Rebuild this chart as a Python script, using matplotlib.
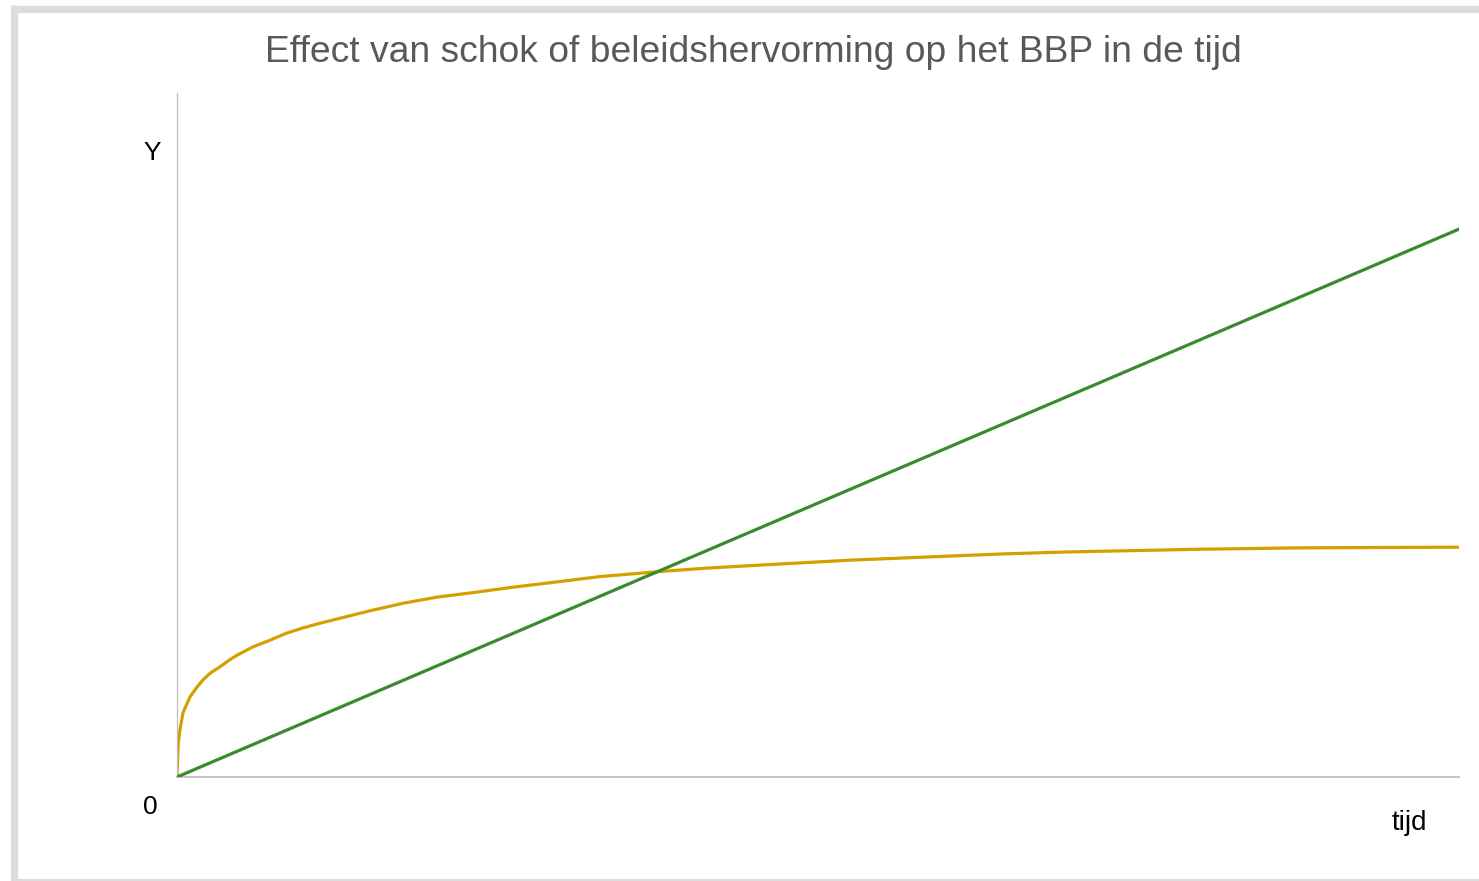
import matplotlib.pyplot as plt
from matplotlib.lines import Line2D

plt.rcParams['font.family'] = ['Liberation Sans', 'DejaVu Sans']

# time axis runs 0..100, output (Y) axis 0..100
tijd_trend = [0, 100]
y_trend = [0, 80.1]

tijd_schok = [0, 0.1, 0.23, 0.47, 1.01, 1.5, 2.03, 2.6, 3.35, 4.0, 4.68, 5.9, 7.25,
              8.5, 9.83, 11.2, 12.48, 15.05, 17.63, 20.28, 22.85, 26.0, 29.1, 33.0,
              37.4, 41.0, 44.7, 48.6, 52.5, 56.4, 60.3, 64.2, 69.4, 74.6, 79.8, 87.6, 100]
y_schok = [0, 5.0, 6.9, 9.4, 11.7, 13.0, 14.2, 15.2, 16.1, 17.0, 17.8, 19.0, 20.0,
           21.0, 21.8, 22.5, 23.1, 24.3, 25.4, 26.3, 26.9, 27.7, 28.4, 29.3,
           30.0, 30.5, 30.9, 31.3, 31.7, 32.0, 32.3, 32.6, 32.9, 33.1, 33.3, 33.5, 33.6]

titel = 'Effect van schok of beleidshervorming op het BBP in de tijd'

W, H = 1479, 881
fig = plt.figure(figsize=(W / 100, H / 100), dpi=100)
fig.patch.set_facecolor('white')

# grey frame round the chart
rand = '#dcdcdc'
fig.add_artist(Line2D([13.5 / W, 1.0], [1 - 8.5 / H, 1 - 8.5 / H], color=rand, lw=5.2,
                      transform=fig.transFigure, solid_capstyle='butt'))
fig.add_artist(Line2D([13.5 / W, 13.5 / W], [1 - 5 / H, 0.0], color=rand, lw=5.2,
                      transform=fig.transFigure, solid_capstyle='butt'))
fig.add_artist(Line2D([13.5 / W, 1.0], [1.5 / H, 1.5 / H], color=rand, lw=1.5,
                      transform=fig.transFigure, solid_capstyle='butt'))

ax = fig.add_axes([177 / W, 1 - 777 / H, (1459 - 177) / W, (777 - 93) / H])
ax.plot(tijd_trend, y_trend, color='#3a8a2f', lw=2.3, solid_capstyle='round', zorder=3)
ax.plot(tijd_schok, y_schok, color='#d4a000', lw=2.3, solid_capstyle='round',
        solid_joinstyle='round', zorder=2)

ax.set_xlim(0, 100)
ax.set_ylim(0, 100)
ax.set_xticks([])
ax.set_yticks([])
for s in ['top', 'right']:
    ax.spines[s].set_visible(False)
ax.spines['left'].set_color('#bfbfbf')
ax.spines['left'].set_linewidth(0.9)
ax.spines['bottom'].set_color('#bfbfbf')
ax.spines['bottom'].set_linewidth(1.3)

fig.text(753 / W, 1 - 52 / H, titel, ha='center', va='center', fontsize=26.8, color='#595959')
fig.text(152 / W, 1 - 153 / H, 'Y', ha='center', va='center', fontsize=19, color='black')
fig.text(150 / W, 1 - 807 / H, '0', ha='center', va='center', fontsize=19, color='black')
fig.text(1409 / W, 1 - 823 / H, 'tijd', ha='center', va='center', fontsize=20, color='black')

fig.savefig('out.png', dpi=100)
